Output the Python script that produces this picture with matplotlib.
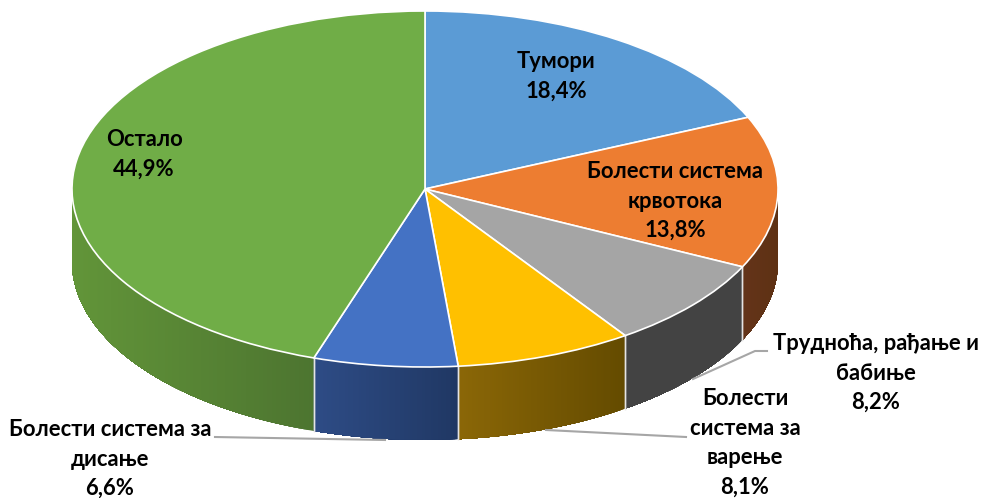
import numpy as np
import matplotlib
matplotlib.use("Agg")
import matplotlib.pyplot as plt

labels = ["Тумори", "Болести система\nкрвотока", "Трудноћа, рађање и\nбабиње",
          "Болести\nсистема за\nварење", "Болести система за\nдисање", "Остало"]
values = [18.4, 13.8, 8.2, 8.1, 6.6, 44.9]
value_text = ["18,4%", "13,8%", "8,2%", "8,1%", "6,6%", "44,9%"]
colors = ["#5B9BD5", "#ED7D31", "#A5A5A5", "#FFC000", "#4472C4", "#70AD47"]
# side wall colours, left end and right end of every slice
side_left = ["#3A6590", "#64341A", "#434343", "#8B6707", "#2E4C86", "#629539"]
side_right = ["#3A6590", "#5E3113", "#434343", "#644B00", "#203864", "#4D7530"]

# pixel layout of the reference
W, H = 984, 498
cx, cy, rx, ry = 425, 189, 353, 178
depth = 73 / ry


def px(x, y):
    return (x - cx) / rx, (cy - y) / ry


fig = plt.figure(figsize=(W / 100, H / 100), dpi=100)
ax = fig.add_axes([0, 0, 1, 1])

# top of the pie, squashed to an ellipse by the axis limits
ax.pie(values, colors=colors, startangle=90, counterclock=False, radius=1,
       wedgeprops=dict(edgecolor="white", linewidth=1.2, zorder=5))
ax.set_aspect("auto")
ax.set_xlim(px(0, 0)[0], px(W, 0)[0])
ax.set_ylim(px(0, H)[1], px(0, 0)[1])
ax.axis("off")

# side wall, only the front half (90 to 270 degrees clockwise from the top)
edges = np.cumsum([0] + values) / sum(values) * 360
for i in range(len(values)):
    a = max(edges[i], 90)
    b = min(edges[i + 1], 270)
    if a >= b:
        continue
    c1 = np.array(matplotlib.colors.to_rgb(side_left[i]))
    c2 = np.array(matplotlib.colors.to_rgb(side_right[i]))
    t = np.radians(np.linspace(a, b, 90))
    xs = np.sin(t)
    ys = np.cos(t)
    xl, xr = xs.min(), xs.max()
    # each strip runs to the end of the slice, so no gaps show between strips
    for j in range(len(t) - 1):
        f = (xs[j] - xl) / (xr - xl)
        col = c1 + (c2 - c1) * f
        ax.fill(np.r_[xs[j:], xs[j:][::-1]], np.r_[ys[j:], ys[j:][::-1] - depth],
                color=col, lw=0, zorder=2)
    # seams between slices
    for e in (a, b):
        if e in (90, 270):
            continue
        s = np.radians(e)
        ax.plot([np.sin(s)] * 2, [np.cos(s), np.cos(s) - depth], color="#E4E4E4", lw=1, zorder=3)

# leader lines
leader_color = "#A6A6A6"
ax.plot(*zip(px(215, 437), px(385, 440)), color=leader_color, lw=1.5, zorder=6)
ax.plot(*zip(px(546, 430), px(686, 437)), color=leader_color, lw=1.5, zorder=6)
ax.plot(*zip(px(693, 379), px(755, 351), px(767, 351)), color=leader_color, lw=1.5, zorder=6)

# labels, centre of every block in pixels
positions = [(556, 76), (675, 201), (876, 373), (745, 443), (110, 459), (144, 154)]
for name, val, pos in zip(labels, value_text, positions):
    x, y = px(*pos)
    ax.text(x, y, name + "\n" + val, ha="center", va="center", fontsize=15.8,
            family=["Lato", "Open Sans", "DejaVu Sans"], fontweight="bold",
            color="black", linespacing=1.5, zorder=7)

fig.savefig("out.png", dpi=100)
